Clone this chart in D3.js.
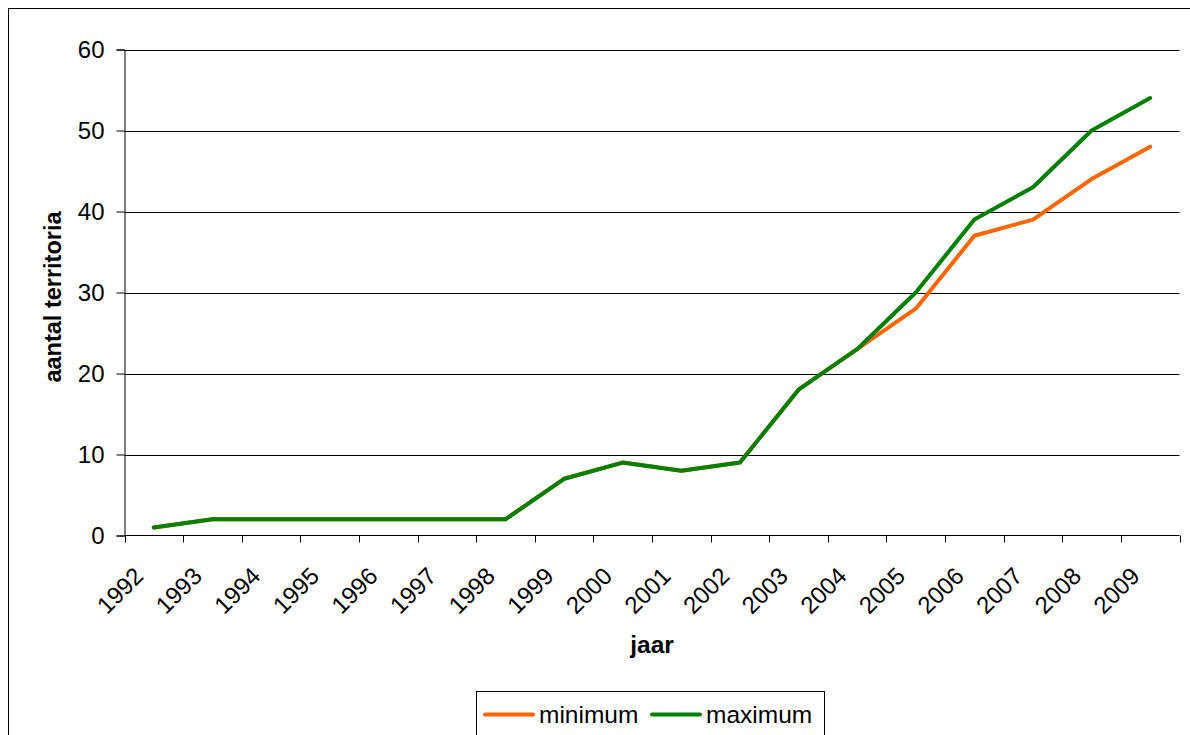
<!DOCTYPE html>
<html>
<head>
<meta charset="utf-8">
<script src="https://cdn.jsdelivr.net/npm/d3@7"></script>
<style>
  html, body { margin: 0; padding: 0; background: #fff; }
  svg { display: block; font-family: "Liberation Sans", Arial, sans-serif; }
</style>
</head>
<body>
<svg id="chart" width="1190" height="735"></svg>
<script>
const years = ["1992","1993","1994","1995","1996","1997","1998","1999","2000","2001","2002","2003","2004","2005","2006","2007","2008","2009"];
const minimum = [1,2,2,2,2,2,2,7,9,8,9,18,23,28,37,39,44,48];
const maximum = [1,2,2,2,2,2,2,7,9,8,9,18,23,30,39,43,50,54];
const yTicks = [0,10,20,30,40,50,60];
const seriesNames = ["minimum","maximum"];
const seriesColors = ["#FF6600","#008000"];

const svg = d3.select("#chart");
const margin = {left: 124.5, right: 1179.5, top: 49.5, bottom: 535.5};

// outer frame (extends beyond visible area on right/bottom)
svg.append("rect")
  .attr("x", 8.5).attr("y", 8.5).attr("width", 1300).attr("height", 900)
  .attr("fill", "none").attr("stroke", "#000").attr("stroke-width", 1);

const x = d3.scaleBand().domain(years).range([margin.left, margin.right]).padding(0);
const y = d3.scaleLinear().domain([0, 60]).range([margin.bottom, margin.top]);

// gridlines
svg.append("g").selectAll("line").data(yTicks.filter(d => d > 0)).join("line")
  .attr("x1", margin.left).attr("x2", margin.right)
  .attr("y1", d => Math.round(y(d)) + 0.5).attr("y2", d => Math.round(y(d)) + 0.5)
  .attr("stroke", "#000").attr("stroke-width", 1);

// y axis
const yAxis = svg.append("g")
  .attr("transform", `translate(${margin.left},0)`)
  .call(d3.axisLeft(y).tickValues(yTicks).tickSize(8).tickPadding(12).tickFormat(d3.format("d")));
yAxis.select(".domain").attr("stroke", "#000");
yAxis.selectAll(".tick line").attr("stroke", "#000");
yAxis.selectAll(".tick text").attr("font-size", 24).attr("fill", "#000")
  .attr("font-family", "'Liberation Sans', Arial, sans-serif");

// x axis: ticks at band boundaries
const xAxisG = svg.append("g").attr("transform", `translate(0,${margin.bottom})`);
xAxisG.append("line").attr("x1", margin.left).attr("x2", margin.right)
  .attr("y1", 0).attr("y2", 0).attr("stroke", "#000");
const boundaries = years.map(d => x(d)).concat([x(years[years.length-1]) + x.bandwidth()]);
xAxisG.selectAll("line.tk").data(boundaries).join("line").attr("class","tk")
  .attr("x1", d => Math.round(d) + 0.5).attr("x2", d => Math.round(d) + 0.5)
  .attr("y1", 0).attr("y2", 7).attr("stroke", "#000");
xAxisG.selectAll("text").data(years).join("text")
  .attr("transform", d => `translate(${x(d) + x.bandwidth()/2 - 9},42) rotate(-45)`)
  .attr("text-anchor", "end")
  .attr("font-size", 24).attr("fill", "#000")
  .text(d => d);

// axis titles
svg.append("text")
  .attr("transform", `translate(61,297) rotate(-90)`)
  .attr("text-anchor", "middle").attr("font-weight", "bold").attr("font-size", 23.5)
  .text("aantal territoria");
svg.append("text")
  .attr("x", (margin.left + margin.right) / 2).attr("y", 653)
  .attr("text-anchor", "middle").attr("font-weight", "bold").attr("font-size", 24.5)
  .text("jaar");

// lines
const line = d3.line().x((d, i) => x(years[i]) + x.bandwidth()/2).y(d => y(d));
[minimum, maximum].forEach((s, k) => {
  svg.append("path").datum(s)
    .attr("d", line).attr("fill", "none")
    .attr("stroke", seriesColors[k]).attr("stroke-width", 4)
    .attr("stroke-linejoin", "round").attr("stroke-linecap", "round");
});

// legend
const lg = svg.append("g");
lg.append("rect").attr("x", 476.5).attr("y", 691.5).attr("width", 348).attr("height", 60)
  .attr("fill", "#fff").attr("stroke", "#000").attr("stroke-width", 1);
const legendX = [485, 652];
seriesNames.forEach((n, k) => {
  lg.append("line").attr("x1", legendX[k]).attr("x2", legendX[k] + 48)
    .attr("y1", 714.5).attr("y2", 714.5)
    .attr("stroke", seriesColors[k]).attr("stroke-width", 4).attr("stroke-linecap", "round");
  lg.append("text").attr("x", legendX[k] + 54).attr("y", 722.5)
    .attr("font-size", 24.5).attr("fill", "#000").text(n);
});
</script>
</body>
</html>
